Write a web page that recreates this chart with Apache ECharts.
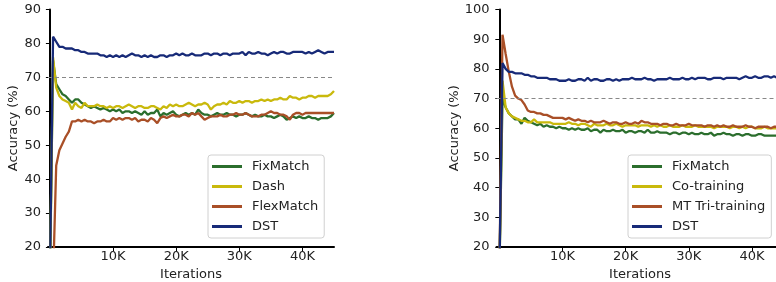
<!DOCTYPE html>
<html><head><meta charset="utf-8">
<script src="https://cdn.jsdelivr.net/npm/echarts@6/dist/echarts.min.js"></script>
<style>html,body{margin:0;padding:0;background:#fff}#c{width:776px;height:282px}</style>
</head><body><div id="c"></div>
<script>
const iterations = Array.from({length: 91}, (_, i) => i * 500);
const xTicks = [10000, 20000, 30000, 40000];
const leftNames = ['FixMatch', 'Dash', 'FlexMatch', 'DST'];
const rightNames = ['FixMatch', 'Co-training', 'MT Tri-training', 'DST'];

const L_fix = [10,75,68,66.5,65,64.5,63.5,62.5,63.5,63.5,
62.5,62,61.5,61,61.5,61,60.5,61,60.5,60,
60.5,60,60.5,59.5,60,60,59.5,60,59.5,59,
60,59,59.5,59.5,60.5,58.5,59.5,59,59.5,60,
59,58.5,59,59.5,59,59.5,59,60.5,59.5,59,
59,58.5,59,59.5,59,59,59.5,59,59,58.5,
59,59,59.5,59,58.5,59,58.5,58.5,59,58.5,
58.5,58,58.5,59,58.5,57.5,58,58.5,58,58.5,
58,58,58.5,58,58,57.5,58,58,58,58.5,59.5];
const L_dash = [10,76,67,64.5,63.5,63,62.5,60.5,62.5,61.5,
61,62.5,61.5,61.5,61.5,62,61.5,61.5,61,61.5,
61,61.5,61.5,61,61.5,62,61.5,61,61.5,61.5,
61,61,61.5,61.5,61,60.5,61.5,61,62,61.5,
62,61.5,61.5,62,62.5,62,61.5,62,62,62.5,
62,60.5,61.5,62,62,62.5,62,63,62.5,62.5,
63,62.5,63,63,62.5,63,63,63.5,63,63.5,
63,63.5,63.5,64,63.5,63.5,64.5,64,64,63.5,
64,64,64.5,64.5,64,64.5,64.5,64.5,64.5,65,66];
const L_flex = [10,10,44,48.5,50.5,52.5,54,57,57,57.5,
57,57.5,57,57,56.5,57,57,57.5,57,57,
58,57.5,58,57.5,58,58,57.5,58,57,57.5,
57.5,57,58,57.5,56.5,58,58.5,58,58.5,59,
58.5,58.5,59,59,58.5,59.5,59,59.5,58.5,57.5,
58,58.5,58.5,58.5,59,58.5,58.5,59,59,59.5,
59,59,59.5,59,58.5,58.5,58.5,59,59,59.5,
60,59.5,59.5,59,59,58.5,57.5,59,59.5,59.5,
59,59.5,59.5,59.5,59.5,59.5,59.5,59.5,59.5,59.5,59.5];
const L_dst = [10,82,80.5,79,79,78.5,78.5,78.5,78,78,
77.5,77.5,77,77,77,77,76.5,76.5,76,76.5,
76,76.5,76,76.5,76,76.5,77,76.5,76.5,76,
76.5,76,76.5,76,76,76.5,76.5,76,76.5,76.5,
77,76.5,77,76.5,76.5,77,76.5,76.5,76.5,77,
77,76.5,77,77,76.5,77,77,76.5,77,77,
77,77.5,76.5,77.5,77,77,77.5,77,77,76.5,
77,77.5,77,77.5,77.5,77,77,77.5,77.5,77.5,
77.5,77,77.5,77,77.5,78,77.5,77,77.5,77.5,77.5];

const R_fix = [10,70,67,65,64,63,63,61.5,63.5,62.5,
62,61.5,61,61.5,60.5,61,60.5,60.5,60,60.5,
60,60,59.5,60,59.5,60,59.5,59.5,60,59,
59.5,59.5,58.5,59.5,59,59,59.5,59,59,59.5,
58.5,59,59,58.5,59,59,58.5,59.5,58.5,58.5,
59,58.5,58.5,58.5,58,58.5,58.5,58,58.5,58.5,
58,58.5,58,58,58.5,58,58,58.5,57.5,58,
58,58.5,58,58,57.5,58,58,57.5,58,58,
57.5,57.5,58,58,57.5,57.5,57.5,57.5,57.5,57.5,58];
const R_co = [10,76,67,65,64,63.5,63,62.5,62.5,62,
62,63,62,62,62,62,62,61.5,61.5,61.5,
61.5,61.5,62,61.5,61.5,61,61.5,61.5,61,60.5,
61.5,61,61,61,61.5,61,61,61.5,61,60.5,
61,61,61,61,60.5,61,61,61,60.5,61,
60.5,61,60.5,60.5,61,60.5,60.5,60.5,61,60.5,
60.5,60.5,61,60.5,60.5,60.5,60.5,60.5,60,60.5,
60.5,60.5,60.5,60,60.5,60.5,60,60.5,60,60.5,
60.5,60,60,60,60.5,60,60,60,60,60,60];
const R_mt = [10,91.5,85,79,74,71,70,69.5,68,66,
65.5,65.5,65,65,64.5,64.5,64,63.5,63.5,63.5,
63.5,63,63.5,63,62.5,63,62.5,62.5,62,62.5,
62,62,62,62.5,62,61.5,62,62,61.5,61.5,
62,61.5,61.5,62,61.5,62.5,62,62,61.5,61.5,
61.5,61,61.5,61.5,61,61,61.5,61,61,61,
61.5,61,61,61,61,60.5,61,61,60.5,61,
60.5,61,60.5,60.5,61,60.5,60.5,60.5,61,60.5,
60.5,60,60.5,60.5,60.5,60.5,60,60.5,60.5,60.5,60.5];
const R_dst = [10,82,80,79,79,78.5,78.5,78.5,78,78,
77.5,77.5,77,77,77,77,76.5,76.5,76.5,76,
76,76,76.5,76,76,76.5,76.5,76,77,76,
76.5,76.5,76,76,76.5,76.5,76,76.5,76,76.5,
76.5,76.5,77,76.5,76.5,76.5,77,76.5,76.5,76,
76.5,76.5,76.5,76.5,77,76.5,76.5,76.5,77,76.5,
76.5,77,76.5,77,77,77,76.5,76.5,77,77,
77,76.5,77,77,77,77,76.5,77,77.5,77,
77,77.5,77,77,77.5,77.5,77,77.5,77,77.5,77];

const colors = {fix: '#2b6e2d', yel: '#c9b90c', ora: '#a94f27', blu: '#172a78'};
const FONT = 'DejaVu Sans';
const TXT = '#222';

function pairs(ys) { return iterations.map((x, i) => [x, ys[i]]); }

function mkX(idx, min) {
  return {
    type: 'value', gridIndex: idx, min: min, max: 45000,
    name: 'Iterations', nameLocation: 'middle', nameGap: 19,
    nameTextStyle: {fontFamily: FONT, fontSize: 13, color: TXT},
    axisLine: {show: true, onZero: false, lineStyle: {color: '#000', width: 2}},
    axisTick: {show: true, length: 4, customValues: xTicks, lineStyle: {color: '#000'}},
    axisLabel: {customValues: xTicks, margin: 3, fontFamily: FONT, fontSize: 13, color: TXT,
      formatter: v => (v / 1000) + 'K'},
    splitLine: {show: false}
  };
}
function mkY(idx, max, gap) {
  return {
    type: 'value', gridIndex: idx, min: 20, max: max, interval: 10,
    name: 'Accuracy (%)', nameLocation: 'middle', nameGap: gap, nameRotate: 90,
    nameTextStyle: {fontFamily: FONT, fontSize: 13, color: TXT},
    axisLine: {show: true, lineStyle: {color: '#000', width: 2}},
    axisTick: {show: true, length: 4, lineStyle: {color: '#000'}},
    axisLabel: {margin: 7, fontFamily: FONT, fontSize: 13, color: TXT},
    splitLine: {show: false}
  };
}
function mkS(name, data, color, idx, withMark) {
  const s = {
    type: 'line', name: name, xAxisIndex: idx, yAxisIndex: idx,
    data: pairs(data), showSymbol: false, symbol: 'none', clip: true,
    lineStyle: {color: color, width: 2.3}, itemStyle: {color: color},
    emphasis: {disabled: true}, animation: false
  };
  if (withMark) {
    s.markLine = {silent: true, symbol: ['none', 'none'], label: {show: false},
      lineStyle: {color: '#888', type: [4, 3], width: 1}, data: [{yAxis: 70}]};
  }
  return s;
}
function mkLegend(names, left) {
  return {
    data: names, orient: 'vertical', left: left, top: 155,
    itemWidth: 30, itemHeight: 3, itemGap: 7, icon: 'rect',
    padding: [5, 6, 5, 4],
    borderColor: '#d0d0d0', borderWidth: 1, borderRadius: 3, backgroundColor: '#fff',
    textStyle: {fontFamily: FONT, fontSize: 13, color: TXT, padding: [0, 0, 0, 5], lineHeight: 13},
    selectedMode: false
  };
}

const chart = echarts.init(document.getElementById('c'), null, {renderer: 'canvas'});
chart.setOption({
  animation: false,
  backgroundColor: '#fff',
  grid: [
    {left: 48, top: 9.5, width: 286, height: 237.5, containLabel: false, outerBoundsMode: 'none'},
    {left: 496.5, top: 9.5, width: 287, height: 237.5, containLabel: false, outerBoundsMode: 'none'}
  ],
  xAxis: [mkX(0, -300), mkX(1, -450)],
  yAxis: [mkY(0, 90, 26), mkY(1, 100, 33)],
  legend: [mkLegend(leftNames, 208), mkLegend(rightNames, 628)],
  series: [
    mkS('FixMatch', L_fix, colors.fix, 0, true),
    mkS('Dash', L_dash, colors.yel, 0),
    mkS('FlexMatch', L_flex, colors.ora, 0),
    mkS('DST', L_dst, colors.blu, 0),
    mkS('FixMatch', R_fix, colors.fix, 1, true),
    mkS('Co-training', R_co, colors.yel, 1),
    mkS('MT Tri-training', R_mt, colors.ora, 1),
    mkS('DST', R_dst, colors.blu, 1)
  ]
});
</script></body></html>
